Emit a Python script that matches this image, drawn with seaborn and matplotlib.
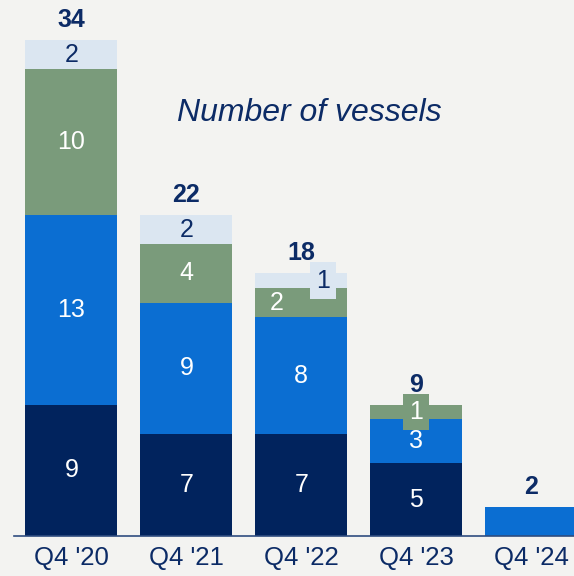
import numpy as np
import pandas as pd
import matplotlib
matplotlib.use("Agg")
import matplotlib.pyplot as plt
import seaborn as sns

# ---- data ----
quarters = ["Q4 '20", "Q4 '21", "Q4 '22", "Q4 '23", "Q4 '24"]
navy_vals = [9, 7, 7, 5, 0]
blue_vals = [13, 9, 8, 3, 2]
green_vals = [10, 4, 2, 1, 0]
light_vals = [2, 2, 1, 0, 0]
totals = [34, 22, 18, 9, 2]
title_text = "Number of vessels"

# ---- style ----
sns.set_theme(style="white")
plt.rcParams['font.family'] = ['Liberation Sans', 'DejaVu Sans']

BG = "#f3f3f1"
TXT = "#0c2b66"
colors = ["#01235d", "#0b6ed2", "#7a9b7b", "#dbe6f1"]
label_colors = ["white", "white", "white", TXT]

fig = plt.figure(figsize=(5.74, 5.76), dpi=100, facecolor=BG)
ax = fig.add_axes([14 / 574, 40 / 576, 560 / 574, 536 / 576])
ax.set_facecolor(BG)

stacks = [navy_vals, blue_vals, green_vals, light_vals]
cum = np.cumsum(np.array(stacks, dtype=float), axis=0)

# draw back to front: cumulative totals first
for i in range(len(stacks) - 1, -1, -1):
    df = pd.DataFrame({"quarter": quarters, "value": cum[i]})
    sns.barplot(data=df, x="quarter", y="value", color=colors[i], saturation=1,
                width=0.8, linewidth=0, ax=ax, order=quarters)

ax.set_xlim(-0.5, (574 - 71) / 115)
ax.set_ylim(0, 536 / 14.59)

# label offsets (data x units) for small segments
x_offsets = {(3, 2): 0.187, (2, 2): -0.213}
boxed = {(3, 2), (2, 3)}

for j in range(len(quarters)):
    nonzero = sum(1 for s in stacks if s[j] > 0)
    if nonzero > 1:
        for i, s in enumerate(stacks):
            v = s[j]
            if v <= 0:
                continue
            bottom = cum[i][j] - v
            xx = j + x_offsets.get((i, j), 0)
            kw = {}
            if (i, j) in boxed:
                kw["bbox"] = dict(boxstyle="square,pad=0.25", fc=colors[i], ec="none")
            ax.text(xx, bottom + v / 2, str(v), ha="center", va="center",
                    color=label_colors[i], fontsize=18, **kw)
    ax.annotate(str(totals[j]), (j, totals[j]), xytext=(0, 14.5),
                textcoords="offset points", ha="center", va="center",
                fontweight="bold", fontsize=18, color=TXT)

fig.text(309 / 574, 1 - 113 / 576, title_text, ha="center", va="center",
         fontsize=23, style="italic", color=TXT)

for side in ["top", "right", "left"]:
    ax.spines[side].set_visible(False)
ax.spines["bottom"].set_color("#2f4d80")
ax.spines["bottom"].set_linewidth(1.2)
ax.set_yticks([])
ax.set_xlabel("")
ax.set_ylabel("")
ax.tick_params(axis="x", length=0, pad=7, labelsize=18.5, labelcolor=TXT)

fig.savefig("out.png", dpi=100, facecolor=BG)
